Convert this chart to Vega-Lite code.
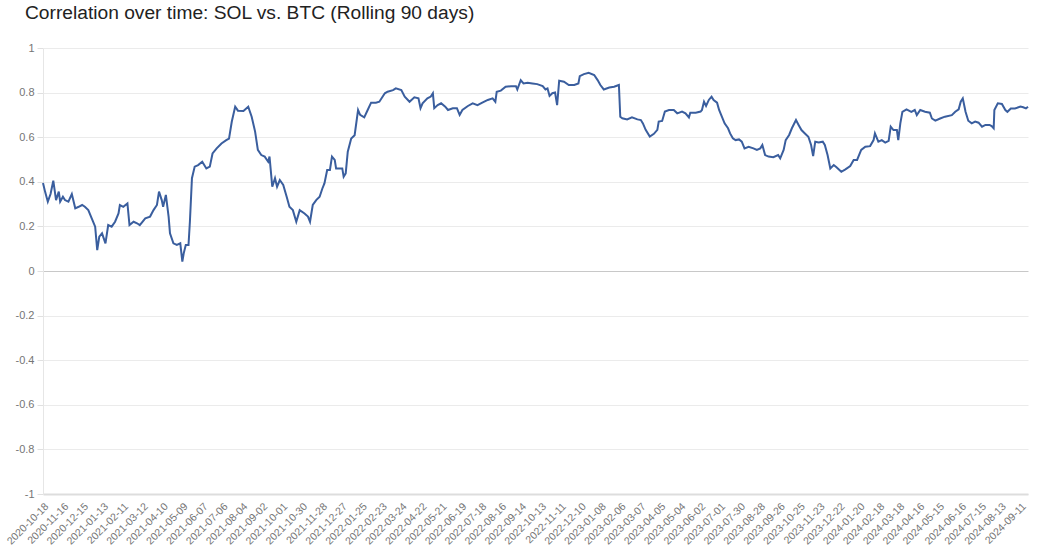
{
  "$schema": "https://vega.github.io/schema/vega-lite/v6.json",
  "width": 985,
  "height": 446,
  "autosize": {"type": "none"},
  "padding": {"left": 43, "top": 48, "right": 21, "bottom": 57},
  "background": "white",
  "title": {"text": "Correlation over time: SOL vs. BTC (Rolling 90 days)", "anchor": "start", "frame": "group", "dx": -18, "offset": 19, "fontSize": 19.2, "font": "Liberation Sans", "fontWeight": "normal", "color": "#222222"},
  "config": {"view": {"stroke": null}},
  "data": {"values": [
    {"date":"2020-10-18","corr":0.395},{"date":"2020-10-21","corr":0.356},{"date":"2020-10-25","corr":0.311},{"date":"2020-10-29","corr":0.345},
    {"date":"2020-11-02","corr":0.405},{"date":"2020-11-06","corr":0.318},{"date":"2020-11-10","corr":0.356},{"date":"2020-11-12","corr":0.311},
    {"date":"2020-11-16","corr":0.333},{"date":"2020-11-19","corr":0.318},{"date":"2020-11-24","corr":0.311},{"date":"2020-11-29","corr":0.345},
    {"date":"2020-12-04","corr":0.281},{"date":"2020-12-09","corr":0.288},{"date":"2020-12-14","corr":0.296},{"date":"2020-12-18","corr":0.288},
    {"date":"2020-12-23","corr":0.273},{"date":"2020-12-28","corr":0.236},{"date":"2021-01-02","corr":0.199},{"date":"2021-01-05","corr":0.094},
    {"date":"2021-01-08","corr":0.154},{"date":"2021-01-12","corr":0.169},{"date":"2021-01-17","corr":0.124},{"date":"2021-01-21","corr":0.206},
    {"date":"2021-01-26","corr":0.199},{"date":"2021-01-31","corr":0.221},{"date":"2021-02-05","corr":0.258},{"date":"2021-02-07","corr":0.296},
    {"date":"2021-02-12","corr":0.288},{"date":"2021-02-18","corr":0.303},{"date":"2021-02-21","corr":0.206},{"date":"2021-02-27","corr":0.221},
    {"date":"2021-03-04","corr":0.214},{"date":"2021-03-08","corr":0.206},{"date":"2021-03-16","corr":0.236},{"date":"2021-03-23","corr":0.244},
    {"date":"2021-03-28","corr":0.273},{"date":"2021-04-02","corr":0.296},{"date":"2021-04-05","corr":0.356},{"date":"2021-04-09","corr":0.318},
    {"date":"2021-04-11","corr":0.288},{"date":"2021-04-15","corr":0.341},{"date":"2021-04-19","corr":0.244},{"date":"2021-04-21","corr":0.169},
    {"date":"2021-04-26","corr":0.124},{"date":"2021-05-01","corr":0.117},{"date":"2021-05-06","corr":0.124},{"date":"2021-05-09","corr":0.042},
    {"date":"2021-05-11","corr":0.079},{"date":"2021-05-14","corr":0.117},{"date":"2021-05-18","corr":0.117},{"date":"2021-05-20","corr":0.221},
    {"date":"2021-05-23","corr":0.416},{"date":"2021-05-27","corr":0.468},{"date":"2021-06-01","corr":0.475},{"date":"2021-06-07","corr":0.490},
    {"date":"2021-06-13","corr":0.460},{"date":"2021-06-18","corr":0.468},{"date":"2021-06-22","corr":0.527},{"date":"2021-06-28","corr":0.550},
    {"date":"2021-07-05","corr":0.572},{"date":"2021-07-12","corr":0.587},{"date":"2021-07-16","corr":0.594},{"date":"2021-07-20","corr":0.669},
    {"date":"2021-07-25","corr":0.737},{"date":"2021-07-29","corr":0.719},{"date":"2021-08-06","corr":0.718},{"date":"2021-08-13","corr":0.737},
    {"date":"2021-08-18","corr":0.692},{"date":"2021-08-23","corr":0.625},{"date":"2021-08-27","corr":0.543},{"date":"2021-09-01","corr":0.520},
    {"date":"2021-09-06","corr":0.513},{"date":"2021-09-11","corr":0.490},{"date":"2021-09-13","corr":0.513},{"date":"2021-09-17","corr":0.378},
    {"date":"2021-09-21","corr":0.416},{"date":"2021-09-24","corr":0.378},{"date":"2021-09-28","corr":0.408},{"date":"2021-10-03","corr":0.386},
    {"date":"2021-10-08","corr":0.333},{"date":"2021-10-12","corr":0.288},{"date":"2021-10-17","corr":0.273},{"date":"2021-10-22","corr":0.221},
    {"date":"2021-10-27","corr":0.273},{"date":"2021-11-03","corr":0.258},{"date":"2021-11-08","corr":0.244},{"date":"2021-11-11","corr":0.221},
    {"date":"2021-11-15","corr":0.296},{"date":"2021-11-20","corr":0.318},{"date":"2021-11-25","corr":0.333},{"date":"2021-11-29","corr":0.370},
    {"date":"2021-12-02","corr":0.393},{"date":"2021-12-06","corr":0.453},{"date":"2021-12-10","corr":0.453},{"date":"2021-12-13","corr":0.513},
    {"date":"2021-12-17","corr":0.498},{"date":"2021-12-19","corr":0.460},{"date":"2021-12-24","corr":0.460},{"date":"2021-12-28","corr":0.460},
    {"date":"2021-12-30","corr":0.423},{"date":"2022-01-02","corr":0.438},{"date":"2022-01-05","corr":0.535},{"date":"2022-01-10","corr":0.594},
    {"date":"2022-01-15","corr":0.609},{"date":"2022-01-20","corr":0.722},{"date":"2022-01-23","corr":0.700},{"date":"2022-01-29","corr":0.689},
    {"date":"2022-02-03","corr":0.722},{"date":"2022-02-08","corr":0.755},{"date":"2022-02-15","corr":0.755},{"date":"2022-02-20","corr":0.759},
    {"date":"2022-02-28","corr":0.797},{"date":"2022-03-04","corr":0.804},{"date":"2022-03-12","corr":0.811},{"date":"2022-03-16","corr":0.819},
    {"date":"2022-03-24","corr":0.811},{"date":"2022-03-29","corr":0.782},{"date":"2022-04-05","corr":0.759},{"date":"2022-04-12","corr":0.779},
    {"date":"2022-04-18","corr":0.774},{"date":"2022-04-21","corr":0.730},{"date":"2022-04-24","corr":0.752},{"date":"2022-05-01","corr":0.774},
    {"date":"2022-05-06","corr":0.782},{"date":"2022-05-09","corr":0.797},{"date":"2022-05-11","corr":0.730},{"date":"2022-05-16","corr":0.744},
    {"date":"2022-05-21","corr":0.752},{"date":"2022-05-27","corr":0.737},{"date":"2022-05-31","corr":0.722},{"date":"2022-06-07","corr":0.730},
    {"date":"2022-06-13","corr":0.730},{"date":"2022-06-17","corr":0.700},{"date":"2022-06-21","corr":0.722},{"date":"2022-06-29","corr":0.740},
    {"date":"2022-07-06","corr":0.752},{"date":"2022-07-13","corr":0.744},{"date":"2022-07-20","corr":0.755},{"date":"2022-07-28","corr":0.767},
    {"date":"2022-08-04","corr":0.774},{"date":"2022-08-08","corr":0.759},{"date":"2022-08-10","corr":0.804},{"date":"2022-08-16","corr":0.809},
    {"date":"2022-08-23","corr":0.826},{"date":"2022-08-31","corr":0.829},{"date":"2022-09-07","corr":0.829},{"date":"2022-09-09","corr":0.814},
    {"date":"2022-09-14","corr":0.856},{"date":"2022-09-18","corr":0.841},{"date":"2022-09-24","corr":0.844},{"date":"2022-10-01","corr":0.841},
    {"date":"2022-10-08","corr":0.838},{"date":"2022-10-16","corr":0.829},{"date":"2022-10-20","corr":0.814},{"date":"2022-10-23","corr":0.819},
    {"date":"2022-10-26","corr":0.785},{"date":"2022-10-30","corr":0.797},{"date":"2022-11-03","corr":0.800},{"date":"2022-11-06","corr":0.744},
    {"date":"2022-11-09","corr":0.853},{"date":"2022-11-16","corr":0.849},{"date":"2022-11-23","corr":0.834},{"date":"2022-12-01","corr":0.834},
    {"date":"2022-12-07","corr":0.841},{"date":"2022-12-09","corr":0.874},{"date":"2022-12-15","corr":0.883},{"date":"2022-12-22","corr":0.889},
    {"date":"2022-12-30","corr":0.879},{"date":"2023-01-04","corr":0.856},{"date":"2023-01-08","corr":0.834},{"date":"2023-01-13","corr":0.814},
    {"date":"2023-01-21","corr":0.823},{"date":"2023-01-28","corr":0.826},{"date":"2023-02-04","corr":0.834},{"date":"2023-02-06","corr":0.692},
    {"date":"2023-02-09","corr":0.685},{"date":"2023-02-16","corr":0.680},{"date":"2023-02-23","corr":0.689},{"date":"2023-03-03","corr":0.680},
    {"date":"2023-03-08","corr":0.677},{"date":"2023-03-11","corr":0.662},{"date":"2023-03-15","corr":0.633},{"date":"2023-03-21","corr":0.603},
    {"date":"2023-03-27","corr":0.615},{"date":"2023-04-01","corr":0.633},{"date":"2023-04-03","corr":0.670},{"date":"2023-04-08","corr":0.673},
    {"date":"2023-04-12","corr":0.715},{"date":"2023-04-18","corr":0.722},{"date":"2023-04-25","corr":0.722},{"date":"2023-04-30","corr":0.707},
    {"date":"2023-05-07","corr":0.715},{"date":"2023-05-12","corr":0.707},{"date":"2023-05-17","corr":0.689},{"date":"2023-05-19","corr":0.710},
    {"date":"2023-05-27","corr":0.710},{"date":"2023-06-03","corr":0.715},{"date":"2023-06-05","corr":0.722},{"date":"2023-06-08","corr":0.759},
    {"date":"2023-06-11","corr":0.740},{"date":"2023-06-15","corr":0.767},{"date":"2023-06-19","corr":0.782},{"date":"2023-06-22","corr":0.767},
    {"date":"2023-06-27","corr":0.755},{"date":"2023-06-30","corr":0.722},{"date":"2023-07-04","corr":0.692},{"date":"2023-07-08","corr":0.662},
    {"date":"2023-07-13","corr":0.640},{"date":"2023-07-16","corr":0.617},{"date":"2023-07-20","corr":0.595},{"date":"2023-07-24","corr":0.587},
    {"date":"2023-07-29","corr":0.590},{"date":"2023-08-02","corr":0.580},{"date":"2023-08-06","corr":0.550},{"date":"2023-08-12","corr":0.557},
    {"date":"2023-08-19","corr":0.550},{"date":"2023-08-24","corr":0.543},{"date":"2023-08-29","corr":0.550},{"date":"2023-09-01","corr":0.565},
    {"date":"2023-09-05","corr":0.520},{"date":"2023-09-10","corr":0.513},{"date":"2023-09-17","corr":0.510},{"date":"2023-09-24","corr":0.520},
    {"date":"2023-09-27","corr":0.505},{"date":"2023-10-02","corr":0.543},{"date":"2023-10-05","corr":0.587},{"date":"2023-10-10","corr":0.610},
    {"date":"2023-10-14","corr":0.640},{"date":"2023-10-20","corr":0.677},{"date":"2023-10-24","corr":0.654},{"date":"2023-10-28","corr":0.632},
    {"date":"2023-11-02","corr":0.617},{"date":"2023-11-07","corr":0.602},{"date":"2023-11-11","corr":0.565},{"date":"2023-11-14","corr":0.515},
    {"date":"2023-11-17","corr":0.580},{"date":"2023-11-22","corr":0.576},{"date":"2023-11-28","corr":0.580},{"date":"2023-12-01","corr":0.565},
    {"date":"2023-12-05","corr":0.520},{"date":"2023-12-09","corr":0.460},{"date":"2023-12-14","corr":0.475},{"date":"2023-12-18","corr":0.465},
    {"date":"2023-12-25","corr":0.445},{"date":"2023-12-31","corr":0.456},{"date":"2024-01-07","corr":0.471},{"date":"2024-01-12","corr":0.498},
    {"date":"2024-01-17","corr":0.498},{"date":"2024-01-23","corr":0.543},{"date":"2024-01-29","corr":0.557},{"date":"2024-02-05","corr":0.560},
    {"date":"2024-02-10","corr":0.587},{"date":"2024-02-12","corr":0.617},{"date":"2024-02-17","corr":0.580},{"date":"2024-02-22","corr":0.587},
    {"date":"2024-02-27","corr":0.576},{"date":"2024-03-03","corr":0.584},{"date":"2024-03-06","corr":0.647},{"date":"2024-03-10","corr":0.632},
    {"date":"2024-03-15","corr":0.632},{"date":"2024-03-17","corr":0.587},{"date":"2024-03-20","corr":0.662},{"date":"2024-03-23","corr":0.714},
    {"date":"2024-03-29","corr":0.725},{"date":"2024-04-05","corr":0.714},{"date":"2024-04-10","corr":0.722},{"date":"2024-04-13","corr":0.699},
    {"date":"2024-04-18","corr":0.722},{"date":"2024-04-25","corr":0.714},{"date":"2024-05-02","corr":0.710},{"date":"2024-05-05","corr":0.684},
    {"date":"2024-05-10","corr":0.674},{"date":"2024-05-17","corr":0.684},{"date":"2024-05-24","corr":0.692},{"date":"2024-06-03","corr":0.699},
    {"date":"2024-06-08","corr":0.714},{"date":"2024-06-13","corr":0.725},{"date":"2024-06-16","corr":0.759},{"date":"2024-06-19","corr":0.774},
    {"date":"2024-06-23","corr":0.714},{"date":"2024-06-27","corr":0.674},{"date":"2024-07-02","corr":0.662},{"date":"2024-07-07","corr":0.670},
    {"date":"2024-07-12","corr":0.665},{"date":"2024-07-17","corr":0.647},{"date":"2024-07-22","corr":0.655},{"date":"2024-07-28","corr":0.655},
    {"date":"2024-07-31","corr":0.650},{"date":"2024-08-03","corr":0.640},{"date":"2024-08-04","corr":0.722},{"date":"2024-08-09","corr":0.752},
    {"date":"2024-08-15","corr":0.749},{"date":"2024-08-20","corr":0.722},{"date":"2024-08-23","corr":0.714},{"date":"2024-08-28","corr":0.729},
    {"date":"2024-09-03","corr":0.729},{"date":"2024-09-11","corr":0.737},{"date":"2024-09-15","corr":0.734},{"date":"2024-09-19","corr":0.729},
    {"date":"2024-09-22","corr":0.737}
  ]},
  "mark": {"type": "line", "color": "#3a5e9e", "strokeWidth": 2, "interpolate": "linear"},
  "encoding": {
    "x": {
      "field": "date", "type": "temporal",
      "scale": {"type": "utc", "nice": false},
      "axis": {
        "title": null,
        "values": [
          {"year":2020,"month":10,"date":18,"utc":true},{"year":2020,"month":11,"date":16,"utc":true},{"year":2020,"month":12,"date":15,"utc":true},
          {"year":2021,"month":1,"date":13,"utc":true},{"year":2021,"month":2,"date":11,"utc":true},{"year":2021,"month":3,"date":12,"utc":true},
          {"year":2021,"month":4,"date":10,"utc":true},{"year":2021,"month":5,"date":9,"utc":true},{"year":2021,"month":6,"date":7,"utc":true},
          {"year":2021,"month":7,"date":6,"utc":true},{"year":2021,"month":8,"date":4,"utc":true},{"year":2021,"month":9,"date":2,"utc":true},
          {"year":2021,"month":10,"date":1,"utc":true},{"year":2021,"month":10,"date":30,"utc":true},{"year":2021,"month":11,"date":28,"utc":true},
          {"year":2021,"month":12,"date":27,"utc":true},{"year":2022,"month":1,"date":25,"utc":true},{"year":2022,"month":2,"date":23,"utc":true},
          {"year":2022,"month":3,"date":24,"utc":true},{"year":2022,"month":4,"date":22,"utc":true},{"year":2022,"month":5,"date":21,"utc":true},
          {"year":2022,"month":6,"date":19,"utc":true},{"year":2022,"month":7,"date":18,"utc":true},{"year":2022,"month":8,"date":16,"utc":true},
          {"year":2022,"month":9,"date":14,"utc":true},{"year":2022,"month":10,"date":13,"utc":true},{"year":2022,"month":11,"date":11,"utc":true},
          {"year":2022,"month":12,"date":10,"utc":true},{"year":2023,"month":1,"date":8,"utc":true},{"year":2023,"month":2,"date":6,"utc":true},
          {"year":2023,"month":3,"date":7,"utc":true},{"year":2023,"month":4,"date":5,"utc":true},{"year":2023,"month":5,"date":4,"utc":true},
          {"year":2023,"month":6,"date":2,"utc":true},{"year":2023,"month":7,"date":1,"utc":true},{"year":2023,"month":7,"date":30,"utc":true},
          {"year":2023,"month":8,"date":28,"utc":true},{"year":2023,"month":9,"date":26,"utc":true},{"year":2023,"month":10,"date":25,"utc":true},
          {"year":2023,"month":11,"date":23,"utc":true},{"year":2023,"month":12,"date":22,"utc":true},{"year":2024,"month":1,"date":20,"utc":true},
          {"year":2024,"month":2,"date":18,"utc":true},{"year":2024,"month":3,"date":18,"utc":true},{"year":2024,"month":4,"date":16,"utc":true},
          {"year":2024,"month":5,"date":15,"utc":true},{"year":2024,"month":6,"date":16,"utc":true},{"year":2024,"month":7,"date":15,"utc":true},
          {"year":2024,"month":8,"date":13,"utc":true},{"year":2024,"month":9,"date":11,"utc":true}
        ],
        "labelExpr": "utcFormat(datum.value, '%Y-%m-%d')",
        "labelAngle": -45,
        "labelOverlap": false,
        "labelFlush": false,
        "ticks": false,
        "grid": false,
        "domainColor": "#dddddd",
        "domainWidth": 2,
        "labelPadding": 7,
        "labelColor": "#757575",
        "labelFont": "Liberation Sans",
        "labelFontSize": 10.5
      }
    },
    "y": {
      "field": "corr", "type": "quantitative",
      "scale": {"domain": [-1, 1], "nice": false, "zero": false},
      "axis": {
        "title": null,
        "values": [-1, -0.8, -0.6, -0.4, -0.2, 0, 0.2, 0.4, 0.6, 0.8, 1],
        "labelExpr": "'' + datum.value",
        "grid": true,
        "gridColor": {"condition": {"test": "datum.value === 0", "value": "#c8c8c8"}, "value": "#ebebeb"},
        "domainColor": "#e6e6e6",
        "tickColor": "#e0e0e0",
        "tickSize": 6,
        "labelPadding": 3,
        "labelColor": "#757575",
        "labelFont": "Liberation Sans",
        "labelFontSize": 11
      }
    }
  }
}
